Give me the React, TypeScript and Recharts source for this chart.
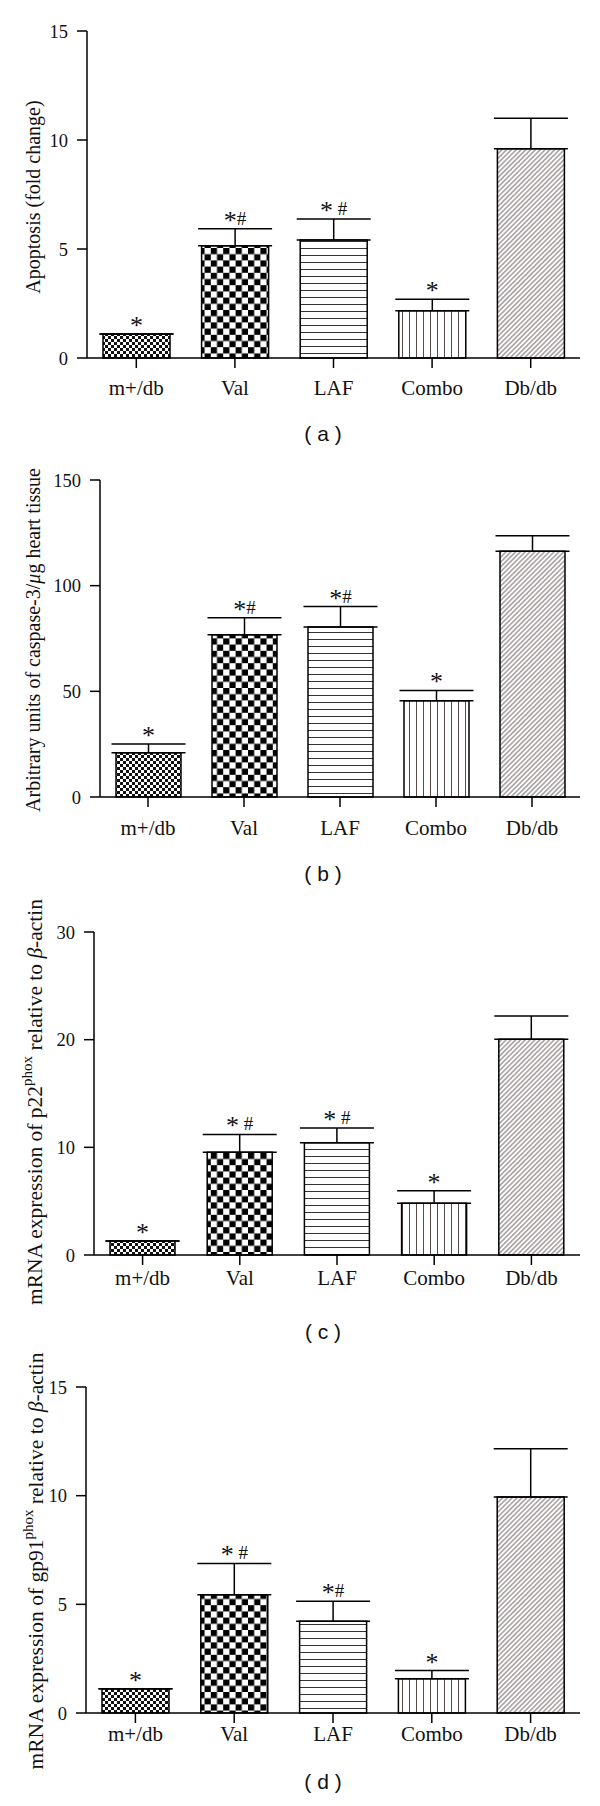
import React from 'react';
import { BarChart, Bar, XAxis, YAxis, ErrorBar, Cell, LabelList } from 'recharts';

const categories = ['m+/db', 'Val', 'LAF', 'Combo', 'Db/db'];

const apoptosisValues = [1.1, 5.15, 5.41, 2.17, 9.6];
const apoptosisErrors = [0, 0.78, 0.97, 0.52, 1.4];
const apoptosisMarks = ['*', '*#', '* #', '*', ''];
const apoptosisTicks = [0, 5, 10, 15];

const caspaseValues = [20.9, 76.8, 80.4, 45.5, 116.3];
const caspaseErrors = [4.2, 8.0, 9.7, 4.9, 7.3];
const caspaseMarks = ['*', '*#', '*#', '*', ''];
const caspaseTicks = [0, 50, 100, 150];

const p22Values = [1.3, 9.55, 10.42, 4.8, 20.04];
const p22Errors = [0, 1.65, 1.38, 1.17, 2.16];
const p22Marks = ['*', '* #', '* #', '*', ''];
const p22Ticks = [0, 10, 20, 30];

const gp91Values = [1.12, 5.44, 4.22, 1.58, 9.94];
const gp91Errors = [0, 1.44, 0.92, 0.37, 2.22];
const gp91Marks = ['*', '* #', '*#', '*', ''];
const gp91Ticks = [0, 5, 10, 15];

const patternNames = ['fine', 'check', 'hlines', 'vlines', 'diag'];

type Row = { name: string; value: number; err: [number, number]; mark: string };

const buildRows = (values: number[], errors: number[], marks: string[]): Row[] =>
  categories.map((name, i) => ({ name, value: values[i], err: [0, errors[i]], mark: marks[i] }));

const SERIF = "'Liberation Serif', 'Times New Roman', serif";

function renderDefs(prefix: string) {
  return (
    <defs>
      <pattern id={`${prefix}-fine`} patternUnits="userSpaceOnUse" width={6} height={6}>
        <rect x={0} y={0} width={6} height={6} fill="#fff" />
        <rect x={0} y={0} width={3} height={3} fill="#111" />
        <rect x={3} y={3} width={3} height={3} fill="#111" />
      </pattern>
      <pattern id={`${prefix}-check`} patternUnits="userSpaceOnUse" width={12.4} height={12.4}>
        <rect x={0} y={0} width={12.4} height={12.4} fill="#fff" />
        <rect x={0} y={0} width={6.2} height={6.2} fill="#000" />
        <rect x={6.2} y={6.2} width={6.2} height={6.2} fill="#000" />
      </pattern>
      <pattern id={`${prefix}-hlines`} patternUnits="userSpaceOnUse" width={10} height={7}>
        <rect x={0} y={0} width={10} height={7} fill="#fff" />
        <line x1={0} y1={3.5} x2={10} y2={3.5} stroke="#333" strokeWidth={1} />
      </pattern>
      <pattern id={`${prefix}-vlines`} patternUnits="userSpaceOnUse" width={7} height={10}>
        <rect x={0} y={0} width={7} height={10} fill="#fff" />
        <line x1={3.5} y1={0} x2={3.5} y2={10} stroke="#5a4a4a" strokeWidth={1} />
      </pattern>
      <pattern id={`${prefix}-diag`} patternUnits="userSpaceOnUse" width={3.4} height={3.4} patternTransform="rotate(45)">
        <rect x={0} y={0} width={3.4} height={3.4} fill="#fff" />
        <line x1={1.7} y1={0} x2={1.7} y2={3.4} stroke="#74686a" strokeWidth={1} />
      </pattern>
    </defs>
  );
}

function markSpans(mark: string) {
  const out: React.ReactNode[] = [];
  const starIdx = mark.indexOf('*');
  if (starIdx >= 0) {
    out.push(
      <tspan key="s" fontSize={26} dy={4}>
        *
      </tspan>
    );
    const rest = mark.slice(starIdx + 1);
    if (rest.length > 0) {
      out.push(
        <tspan key="r" fontSize={19} dy={-4}>
          {rest.replace(' ', '\u00a0')}
        </tspan>
      );
    }
  }
  return out;
}

const makeMark = (rows: Row[]) => (props: any) => {
  const vb = props.viewBox || {};
  const x = props.x ?? vb.x;
  const y = props.y ?? vb.y;
  const width = props.width ?? vb.width;
  const height = props.height ?? vb.height;
  const row = rows.find((r) => r.name === props.value);
  if (!row || !row.mark || x == null) return null;
  const pxPerUnit = Math.abs(height) / row.value;
  const top = Math.min(y, y + height) - row.err[1] * pxPerUnit;
  return (
    <text x={x + width / 2} y={top - 4} textAnchor="middle" fontFamily={SERIF} fontSize={19} fill="#111">
      {markSpans(row.mark)}
    </text>
  );
};

type PanelProps = {
  top: number;
  height: number;
  marginTop: number;
  marginBottom: number;
  yAxisWidth: number;
  xAxisHeight: number;
  xTickMargin: number;
  barSize: number;
  rows: Row[];
  ticks: number[];
  labelX: number;
  labelY: number;
  labelSize: number;
  label: React.ReactNode;
  prefix: string;
};

function Panel(p: PanelProps) {
  const domainMax = p.ticks[p.ticks.length - 1];
  return (
    <div style={{ position: 'absolute', left: 0, top: p.top, width: 600, height: p.height }}>
      <BarChart
        width={600}
        height={p.height}
        data={p.rows}
        margin={{ top: p.marginTop, right: 20, bottom: p.marginBottom, left: 0 }}
        barSize={p.barSize}
      >
        {renderDefs(p.prefix)}
        <XAxis
          dataKey="name"
          height={p.xAxisHeight}
          interval={0}
          tickSize={10}
          tickMargin={p.xTickMargin}
          axisLine={{ stroke: '#000', strokeWidth: 1.5 }}
          tickLine={{ stroke: '#000', strokeWidth: 1.5 }}
          tick={{ fontSize: 21, fontFamily: SERIF, fill: '#111' }}
        />
        <YAxis
          width={p.yAxisWidth}
          domain={[0, domainMax]}
          ticks={p.ticks}
          tickSize={10}
          tickMargin={9}
          axisLine={{ stroke: '#000', strokeWidth: 1.5 }}
          tickLine={{ stroke: '#000', strokeWidth: 1.5 }}
          tick={{ fontSize: 18.5, fontFamily: SERIF, fill: '#111' }}
          label={{
            content: () => (
              <text
                x={p.labelX}
                y={p.labelY}
                transform={`rotate(-90 ${p.labelX} ${p.labelY})`}
                textAnchor="middle"
                dominantBaseline="central"
                fontFamily={SERIF}
                fontSize={p.labelSize}
                fill="#111"
              >
                {p.label}
              </text>
            ),
          }}
        />
        <Bar dataKey="value" isAnimationActive={false} stroke="#000" strokeWidth={1.5}>
          {p.rows.map((r, i) => (
            <Cell key={r.name} fill={`url(#${p.prefix}-${patternNames[i]})`} stroke="#000" strokeWidth={1.5} />
          ))}
          <ErrorBar dataKey="err" width={37} stroke="#000" strokeWidth={1.5} direction="y" />
          <LabelList dataKey="name" content={makeMark(p.rows)} />
        </Bar>
      </BarChart>
    </div>
  );
}

const titleStyle = (top: number): React.CSSProperties => ({
  position: 'absolute',
  left: 263,
  top,
  width: 120,
  textAlign: 'center',
  fontFamily: "'Liberation Sans', Arial, sans-serif",
  fontSize: 21,
  lineHeight: '24px',
  color: '#111',
  whiteSpace: 'pre',
});

export default function App() {
  const rowsA = buildRows(apoptosisValues, apoptosisErrors, apoptosisMarks);
  const rowsB = buildRows(caspaseValues, caspaseErrors, caspaseMarks);
  const rowsC = buildRows(p22Values, p22Errors, p22Marks);
  const rowsD = buildRows(gp91Values, gp91Errors, gp91Marks);
  return (
    <div style={{ position: 'absolute', left: 0, top: 0, width: 600, height: 1806, background: '#fff', overflow: 'hidden' }}>
      <Panel
        top={0}
        height={400}
        marginTop={31}
        marginBottom={0}
        yAxisWidth={87}
        xAxisHeight={42}
        xTickMargin={12}
        barSize={67}
        rows={rowsA}
        ticks={apoptosisTicks}
        labelX={33}
        labelY={197}
        labelSize={20}
        label={<>Apoptosis (fold change)</>}
        prefix="pa"
      />
      <Panel
        top={440}
        height={400}
        marginTop={40}
        marginBottom={0}
        yAxisWidth={100}
        xAxisHeight={43}
        xTickMargin={13}
        barSize={65}
        rows={rowsB}
        ticks={caspaseTicks}
        labelX={33}
        labelY={200}
        labelSize={20}
        label={
          <>
            Arbitrary units of caspase-3/<tspan fontStyle="italic">μ</tspan>g heart tissue
          </>
        }
        prefix="pb"
      />
      <Panel
        top={880}
        height={440}
        marginTop={52}
        marginBottom={20}
        yAxisWidth={94}
        xAxisHeight={45}
        xTickMargin={5}
        barSize={65}
        rows={rowsC}
        ticks={p22Ticks}
        labelX={35}
        labelY={222}
        labelSize={21.5}
        label={
          <>
            mRNA expression of p22<tspan dy={-8} fontSize={15}>phox</tspan>
            <tspan dy={8}> relative to </tspan>
            <tspan fontStyle="italic">β</tspan>-actin
          </>
        }
        prefix="pc"
      />
      <Panel
        top={1320}
        height={470}
        marginTop={67}
        marginBottom={30}
        yAxisWidth={86}
        xAxisHeight={47}
        xTickMargin={3}
        barSize={67}
        rows={rowsD}
        ticks={gp91Ticks}
        labelX={36}
        labelY={241}
        labelSize={21.5}
        label={
          <>
            mRNA expression of gp91<tspan dy={-8} fontSize={15}>phox</tspan>
            <tspan dy={8}> relative to </tspan>
            <tspan fontStyle="italic">β</tspan>-actin
          </>
        }
        prefix="pd"
      />
      <div style={titleStyle(422)}>( a )</div>
      <div style={titleStyle(862)}>( b )</div>
      <div style={titleStyle(1320)}>( c )</div>
      <div style={titleStyle(1770)}>( d )</div>
    </div>
  );
}
